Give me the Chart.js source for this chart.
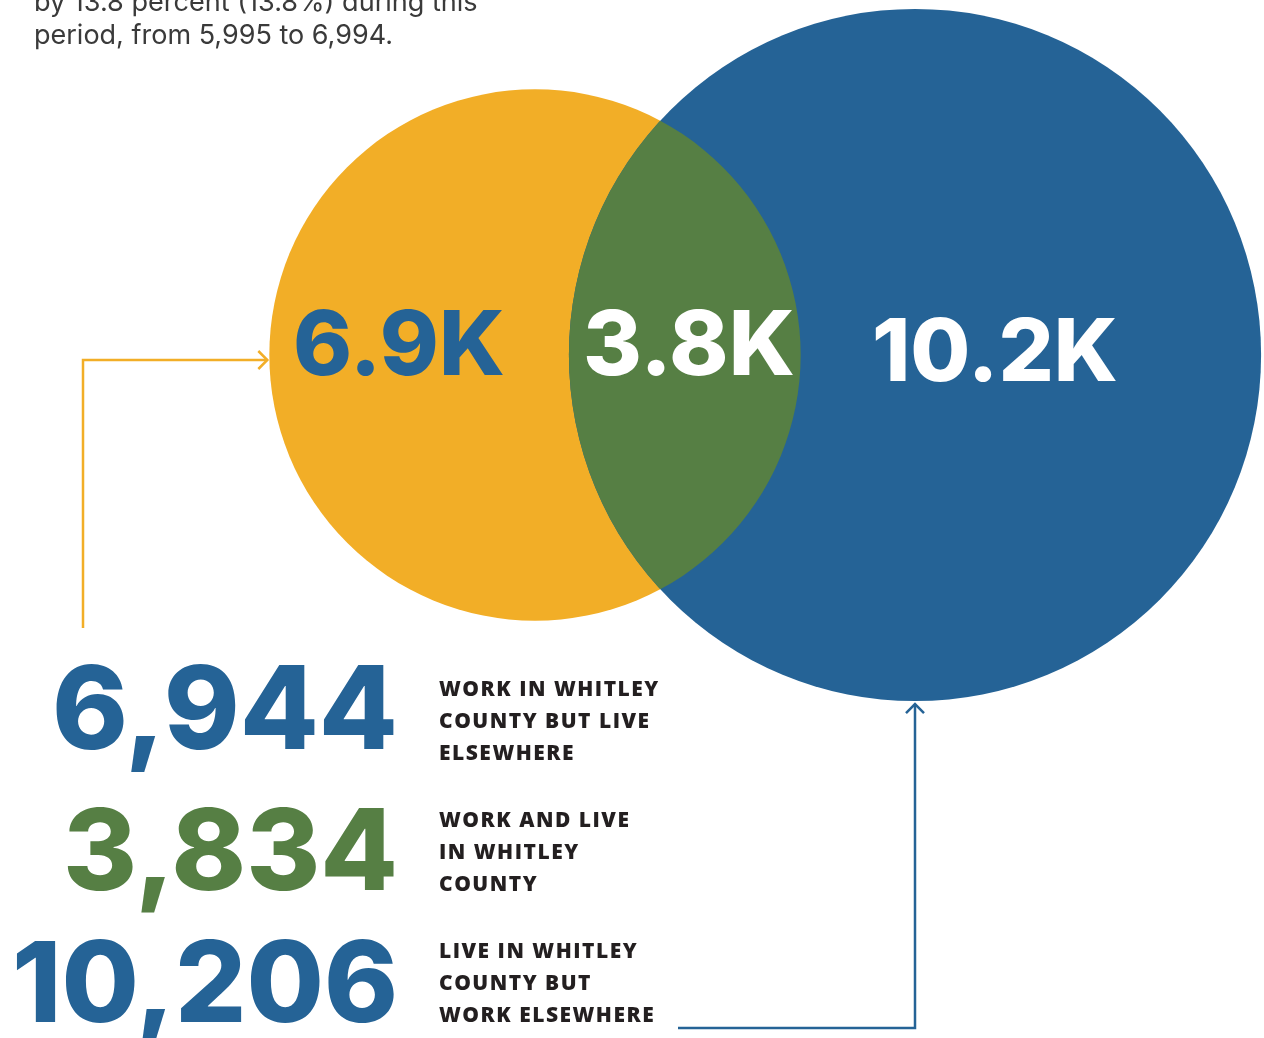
<!DOCTYPE html>
<html>
<head>
<meta charset="utf-8">
<script src="https://cdn.jsdelivr.net/npm/chart.js@4.4.1/dist/chart.umd.min.js"></script>
<style>
  html, body { margin: 0; padding: 0; background: #fff; overflow: hidden; }
  #wrap { position: relative; width: 1264px; height: 1038px; }
</style>
</head>
<body>
<div id="wrap"><canvas id="venn"></canvas></div>
<script>
// Commuting flows, Whitley County
const groups = [
  "Work in Whitley County but live elsewhere",
  "Work and live in Whitley County",
  "Live in Whitley County but work elsewhere"
]
const workers = [6944, 3834, 10206]
const shortLabels = ["6.9K", "3.8K", "10.2K"]
const captions = [
  ["WORK IN WHITLEY", "COUNTY BUT LIVE", "ELSEWHERE"],
  ["WORK AND LIVE", "IN WHITLEY", "COUNTY"],
  ["LIVE IN WHITLEY", "COUNTY BUT", "WORK ELSEWHERE"]
]
const introLines = ["by 13.8 percent (13.8%) during this", "period, from 5,995 to 6,994."]

const yellow = "#f2ae27"
const green = "#567f44"
const blue = "#256396"
const ink = "#231f20"

// the two circles: everyone working in the county, everyone living in it
const workHere = workers[0] + workers[1]
const liveHere = workers[1] + workers[2]

// layout, in workers (radius grows with the circle's total)
const pxPerWorker = 0.02465
const separation = 380 / pxPerWorker
const W = 1264, H = 1038
const originX = 535, originY = 355

const numberFont = "'Inter', 'DejaVu Sans', sans-serif"
const captionFont = "'Open Sans', 'Lato', sans-serif"

function radiusFor(total) {
  return (context) => {
    const scale = context.chart.scales.x
    return Math.abs(scale.getPixelForValue(total) - scale.getPixelForValue(0))
  }
}

// text fitted to a given width, anchored right, left or centre
function fitText(ctx, text, weight, family, width, x, y, align) {
  ctx.font = `${weight} 100px ${family}`
  const size = 100 * width / ctx.measureText(text).width
  ctx.font = `${weight} ${size}px ${family}`
  ctx.textAlign = align
  ctx.fillText(text, x, y)
}

const vennPlugin = {
  id: "venn",
  afterDatasetsDraw(chart) {
    const { ctx } = chart
    const work = chart.getDatasetMeta(0).data[0]
    const live = chart.getDatasetMeta(1).data[0]

    // overlap lens
    ctx.save()
    ctx.beginPath()
    ctx.arc(work.x, work.y, work.options.radius, 0, Math.PI * 2)
    ctx.clip()
    ctx.beginPath()
    ctx.arc(live.x, live.y, live.options.radius, 0, Math.PI * 2)
    ctx.fillStyle = green
    ctx.fill()
    ctx.restore()

    // values inside the circles
    ctx.save()
    ctx.textBaseline = "alphabetic"
    ctx.fillStyle = blue
    fitText(ctx, shortLabels[0], 800, numberFont, 212, work.x - 136, work.y + 20, "center")
    ctx.fillStyle = "#ffffff"
    fitText(ctx, shortLabels[1], 800, numberFont, 212, work.x + 154, work.y + 20, "center")
    fitText(ctx, shortLabels[2], 800, numberFont, 246, live.x + 80, live.y + 26, "center")
    ctx.restore()
  },
  afterDraw(chart) {
    const { ctx } = chart
    const work = chart.getDatasetMeta(0).data[0]
    const live = chart.getDatasetMeta(1).data[0]

    ctx.save()
    // intro text
    ctx.fillStyle = "#3a3a3a"
    ctx.textBaseline = "alphabetic"
    fitText(ctx, introLines[0], 400, numberFont, 444, 34, 11, "left")
    fitText(ctx, introLines[1], 400, numberFont, 359, 34, 44, "left")

    // big totals
    const numberColors = [blue, green, blue]
    const numberWidths = [346, 335, 386]
    const numberBaselines = [749, 890, 1022]
    workers.forEach((value, i) => {
      ctx.fillStyle = numberColors[i]
      fitText(ctx, value.toLocaleString("en-US"), 800, numberFont, numberWidths[i], 398, numberBaselines[i], "right")
    })

    // captions
    ctx.fillStyle = ink
    ctx.font = `800 21px ${captionFont}`
    ctx.letterSpacing = "1.5px"
    ctx.textAlign = "left"
    const captionBaselines = [696, 827, 958]
    captions.forEach((lines, i) => {
      lines.forEach((line, j) => ctx.fillText(line, 439, captionBaselines[i] + j * 32))
    })
    ctx.letterSpacing = "0px"

    // connector arrows
    ctx.lineWidth = 2.5
    ctx.lineJoin = "miter"
    const leftEdge = work.x - work.options.radius - 2
    ctx.strokeStyle = yellow
    ctx.beginPath()
    ctx.moveTo(83, 628)
    ctx.lineTo(83, work.y + 5)
    ctx.lineTo(leftEdge, work.y + 5)
    ctx.stroke()
    ctx.beginPath()
    ctx.moveTo(leftEdge - 9, work.y - 4)
    ctx.lineTo(leftEdge, work.y + 5)
    ctx.lineTo(leftEdge - 9, work.y + 14)
    ctx.stroke()

    const bottomEdge = live.y + live.options.radius + 3
    ctx.strokeStyle = blue
    ctx.beginPath()
    ctx.moveTo(678, 1028)
    ctx.lineTo(live.x, 1028)
    ctx.lineTo(live.x, bottomEdge)
    ctx.stroke()
    ctx.beginPath()
    ctx.moveTo(live.x - 9, bottomEdge + 9)
    ctx.lineTo(live.x, bottomEdge)
    ctx.lineTo(live.x + 9, bottomEdge + 9)
    ctx.stroke()
    ctx.restore()
  }
}

const canvas = document.getElementById("venn")
canvas.width = W
canvas.height = H

new Chart(canvas, {
  type: "scatter",
  data: {
    datasets: [
      {
        label: "Work in Whitley County",
        data: [{ x: 0, y: 0 }],
        pointRadius: radiusFor(workHere),
        pointBackgroundColor: yellow,
        pointBorderWidth: 0,
        order: 2
      },
      {
        label: "Live in Whitley County",
        data: [{ x: separation, y: 0 }],
        pointRadius: radiusFor(liveHere),
        pointBackgroundColor: blue,
        pointBorderWidth: 0,
        order: 1
      }
    ]
  },
  options: {
    responsive: false,
    animation: false,
    events: [],
    layout: { padding: 0 },
    plugins: { legend: { display: false }, tooltip: { enabled: false } },
    scales: {
      x: { type: "linear", display: false, min: -originX / pxPerWorker, max: (W - originX) / pxPerWorker },
      y: { type: "linear", display: false, min: -(H - originY) / pxPerWorker, max: originY / pxPerWorker }
    }
  },
  plugins: [vennPlugin]
})
</script>
</body>
</html>
